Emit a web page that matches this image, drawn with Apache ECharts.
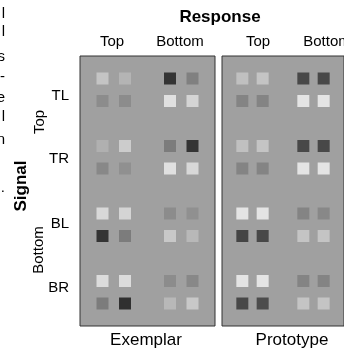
<!DOCTYPE html>
<html>
<head>
<meta charset="utf-8">
<script src="https://cdn.jsdelivr.net/npm/echarts@6/dist/echarts.min.js"></script>
<style>
  html, body { margin: 0; padding: 0; background: #fff; }
  #main { width: 344px; height: 352px; }
</style>
</head>
<body>
<div id="main"></div>
<script>
// grey level of each square (0 = black, 255 = white), rows top to bottom
const rowPos = [1, 2, 4, 5, 7, 8, 10, 11];
const colPos = [1, 2, 4, 5];
const exemplar = [
  [205, 185, 25, 120],
  [135, 135, 240, 225],
  [180, 215, 115, 25],
  [130, 140, 240, 230],
  [230, 225, 135, 140],
  [25, 115, 210, 190],
  [235, 235, 135, 130],
  [115, 20, 190, 210]
];
const prototype = [
  [200, 205, 50, 50],
  [125, 125, 245, 245],
  [200, 205, 50, 50],
  [125, 125, 245, 245],
  [245, 245, 125, 130],
  [45, 50, 205, 205],
  [245, 245, 125, 125],
  [50, 55, 205, 205]
];
const panelNames = ['Exemplar', 'Prototype'];
const responseLabels = ['Top', 'Bottom'];
const signalGroups = ['Top', 'Bottom'];
const signalLabels = ['TL', 'TR', 'BL', 'BR'];
const edgeLetters = ['l', 'l', 's', '-', 'e', 'l', 'n', '.'];

const font = '"Liberation Sans", Arial, Helvetica, sans-serif';

function toPoints(mat) {
  const out = [];
  mat.forEach((row, r) => row.forEach((v, c) => out.push([colPos[c], rowPos[r], v])));
  return out;
}

const panelLeft = [80, 222];
const grids = panelLeft.map(l => ({
  left: l, top: 56, width: 135, height: 270,
  show: true, backgroundColor: '#a0a0a0', borderColor: '#333', borderWidth: 1
}));
const axisOff = { show: false, splitLine: { show: false } };
const xAxes = grids.map((g, i) => Object.assign({ type: 'value', min: 0, max: 6, gridIndex: i }, axisOff));
const yAxes = grids.map((g, i) => Object.assign({ type: 'value', min: 0, max: 12, inverse: true, gridIndex: i }, axisOff));

const series = [exemplar, prototype].map((m, i) => ({
  type: 'scatter', xAxisIndex: i, yAxisIndex: i,
  symbol: 'rect', symbolSize: 12, silent: true,
  data: toPoints(m)
}));

const txt = (x, y, text, o) => ({
  type: 'text', x: x, y: y, rotation: (o && o.rot) || 0,
  style: {
    text: text, fill: '#000', font: ((o && o.bold) ? 'bold ' : '') + ((o && o.size) || 13) + 'px ' + font,
    textAlign: (o && o.align) || 'center', textVerticalAlign: 'middle'
  }
});

const graphic = [];
graphic.push(txt(220, 17, 'Response', { bold: true, size: 17 }));
const headerX = [[112, 180], [258, 327]];
headerX.forEach(p => p.forEach((x, k) => graphic.push(txt(x, 42, responseLabels[k], { size: 15 }))));
const rowLabelY = [96, 159, 224, 288];
signalLabels.forEach((s, k) => graphic.push(txt(69, rowLabelY[k], s, { size: 15, align: 'right' })));
graphic.push(txt(40, 122, signalGroups[0], { size: 15, rot: Math.PI / 2 }));
graphic.push(txt(39, 250, signalGroups[1], { size: 15, rot: Math.PI / 2 }));
graphic.push(txt(21, 186, 'Signal', { bold: true, size: 17, rot: Math.PI / 2 }));
graphic.push(txt(146, 340, panelNames[0], { size: 17 }));
graphic.push(txt(292, 340, panelNames[1], { size: 17 }));
const edgeY = [14, 32, 57, 77, 98, 117, 140, 188];
edgeLetters.forEach((c, k) => graphic.push(txt(5, edgeY[k], c, { size: 15, align: 'right' })));

const chart = echarts.init(document.getElementById('main'));
chart.setOption({
  animation: false,
  grid: grids,
  xAxis: xAxes,
  yAxis: yAxes,
  visualMap: {
    show: false, type: 'continuous', dimension: 2, min: 0, max: 255,
    seriesIndex: [0, 1], inRange: { color: ['#000000', '#ffffff'] }
  },
  series: series,
  graphic: graphic
});
</script>
</body>
</html>
